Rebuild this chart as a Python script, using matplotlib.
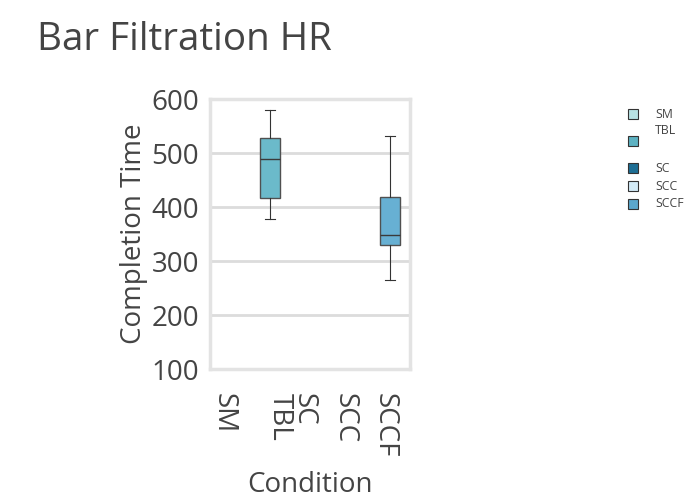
import matplotlib
matplotlib.use('Agg')
import matplotlib.pyplot as plt
import numpy as np

plt.rcParams['font.family'] = ['Open Sans', 'DejaVu Sans']

# data
conditions = ['SM', 'TBL', 'SC', 'SCC', 'SCCF']
tick_labels = ['SM', 'TBL\n', 'SC', 'SCC', 'SCCF']
colors = ['#b8e2e3', '#5db2c2', '#1d6e94', '#d3ebf7', '#5ba7cc']
box_fill = {'TBL': '#6bbaca', 'SCCF': '#67b0d3'}

# box stats for the conditions that have data
box_names = ['TBL', 'SCCF']
whislo = [377, 265]
q1 = [417, 330]
med = [489, 348]
q3 = [527, 419]
whishi = [579, 531]

txt = '#444444'

fig = plt.figure(figsize=(7, 5), dpi=100)
ax = fig.add_axes([0.30, 0.262, 0.286, 0.54])

stats = []
pos = []
for i, n in enumerate(box_names):
    stats.append(dict(whislo=whislo[i], q1=q1[i], med=med[i], q3=q3[i], whishi=whishi[i], fliers=[]))
    pos.append(conditions.index(n))

bp = ax.bxp(stats, positions=pos, widths=0.5, patch_artist=True, showfliers=False,
            boxprops=dict(edgecolor='#505050', linewidth=1),
            medianprops=dict(color='#3a3a3a', linewidth=1),
            whiskerprops=dict(color='#333333', linewidth=0.8),
            capprops=dict(color='#333333', linewidth=0.8), capwidths=0.25)
for patch, n in zip(bp['boxes'], box_names):
    patch.set_facecolor(box_fill[n])

ax.set_xlim(-0.5, 4.5)
ax.set_ylim(100, 600)
ax.set_yticks([100, 200, 300, 400, 500, 600])
# rotated labels sit a little left of the category centre, as in the original
ax.set_xticks(np.arange(len(conditions)) - 0.15)
ax.set_xticklabels(tick_labels, rotation=-90, fontsize=20, color=txt)
ax.tick_params(axis='x', length=0, pad=17)
ax.tick_params(axis='y', length=0, pad=8, labelsize=20, labelcolor=txt)
ax.yaxis.grid(True, color='#dcdcdc', linewidth=2)
ax.set_axisbelow(True)
for s in ax.spines.values():
    s.set_color('#e3e3e3')
    s.set_linewidth(2.5)

ax.set_xlabel('Condition', fontsize=20, color=txt, labelpad=10)
ax.set_ylabel('Completion Time', fontsize=20, color=txt, labelpad=2)
fig.text(37 / 700, 1 - 50 / 500, 'Bar Filtration HR', fontsize=27.8, color=txt, va='baseline')

# legend drawn by hand
ys = [114, 141, 168, 186, 204]
for n, c, y in zip(conditions, colors, ys):
    fig.patches.append(plt.Rectangle((628 / 700, 1 - (y + 5) / 500), 10 / 700, 10 / 500,
                                     facecolor=c, edgecolor='#333333', linewidth=0.8,
                                     transform=fig.transFigure, figure=fig))
    ty = y - 10 if n == 'TBL' else y
    fig.text(655 / 700, 1 - ty / 500, n, fontsize=8.8, color=txt, va='center')

fig.savefig('out.png', dpi=100)
